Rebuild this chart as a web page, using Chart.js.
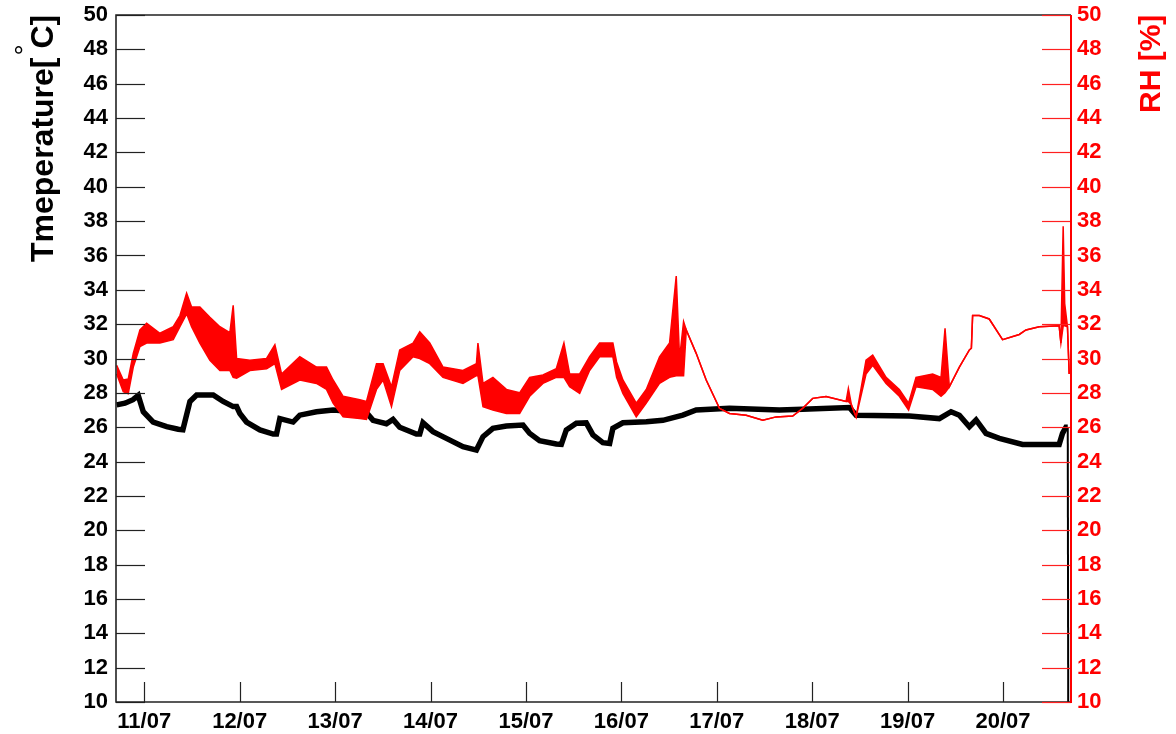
<!DOCTYPE html>
<html lang="en">
<head>
    <meta charset="UTF-8">
    <title>Temperature and RH</title>
    <script src="https://cdn.jsdelivr.net/npm/chart.js"></script>
    <style>
        body {
            margin: 0;
            padding: 0;
            background: #fff;
        }
        #wrap {
            width: 1176px;
            height: 734px;
        }
    </style>
</head>
<body>
    <div id="wrap"><canvas id="myChart"></canvas></div>

    <script>
        // days counted from 11/07 00:00
        const dayLabels = ['11/07', '12/07', '13/07', '14/07', '15/07', '16/07', '17/07', '18/07', '19/07', '20/07'];
        const yTicks = [10, 12, 14, 16, 18, 20, 22, 24, 26, 28, 30, 32, 34, 36, 38, 40, 42, 44, 46, 48, 50];

        const tempDay = [-0.289, -0.202, -0.118, -0.063, -0.010, 0.094, 0.235, 0.356, 0.405, 0.479, 0.549, 0.723, 0.827, 0.932, 0.968,
            1.002, 1.072, 1.212, 1.351, 1.386, 1.421, 1.560, 1.630, 1.805, 1.979, 2.329, 2.398, 2.538, 2.607, 2.677, 2.852, 2.887, 2.921,
            3.026, 3.166, 3.340, 3.481, 3.550, 3.654, 3.795, 3.969, 4.039, 4.143, 4.318, 4.371, 4.423, 4.528, 4.632, 4.702, 4.806, 4.877,
            4.911, 5.016, 5.261, 5.435, 5.644, 5.784, 6.133, 6.656, 6.897, 7.390, 7.460, 8.018, 8.332, 8.455, 8.542, 8.647, 8.717, 8.821,
            8.961, 9.204, 9.588, 9.623, 9.659, 9.678, 9.683];
        const tempVal = [27.3, 27.4, 27.6, 27.85, 26.9, 26.3, 26.03, 25.88, 25.85, 27.5, 27.88, 27.88, 27.5, 27.2, 27.2,
            26.8, 26.3, 25.84, 25.6, 25.6, 26.5, 26.3, 26.7, 26.9, 27.0, 26.85, 26.4, 26.2, 26.45, 26.0, 25.6, 25.6, 26.26,
            25.74, 25.35, 24.87, 24.67, 25.45, 25.93, 26.07, 26.13, 25.64, 25.21, 25.02, 25.0, 25.84, 26.23, 26.25, 25.55, 25.1, 25.05,
            25.93, 26.26, 26.32, 26.4, 26.7, 27.0, 27.1, 27.0, 27.04, 27.15, 26.7, 26.65, 26.5, 26.9, 26.7, 26.03, 26.42, 25.64,
            25.35, 25.0, 25.0, 25.64, 26.0, 26.0, 10.0];

        // RH is a noisy band: upper and lower edge of the band
        const rhDay = [-0.289, -0.220, -0.168, -0.115, -0.045, 0.025, 0.164, 0.304, 0.374, 0.444, 0.496, 0.583, 0.688, 0.793, 0.897,
            0.932, 0.968, 1.107, 1.282, 1.369, 1.439, 1.630, 1.805, 1.910, 1.979, 2.084, 2.259, 2.329, 2.434, 2.503, 2.591, 2.677,
            2.817, 2.887, 2.992, 3.131, 3.340, 3.481, 3.497, 3.550, 3.654, 3.795, 3.934, 4.039, 4.178, 4.318, 4.398, 4.458, 4.563,
            4.667, 4.772, 4.911, 4.950, 5.016, 5.156, 5.261, 5.400, 5.505, 5.575, 5.610, 5.652, 5.680, 5.784, 5.889, 6.028, 6.133,
            6.308, 6.482, 6.622, 6.796, 6.901, 7.005, 7.145, 7.355, 7.379, 7.411, 7.460, 7.564, 7.634, 7.774, 7.913, 8.010, 8.088,
            8.262, 8.350, 8.392, 8.437, 8.542, 8.647, 8.668, 8.681, 8.751, 8.855, 8.995, 9.170, 9.240, 9.379, 9.588, 9.606, 9.630,
            9.646, 9.675, 9.693];
        const rhHigh = [29.6, 28.75, 28.8, 30.3, 31.66, 32.05, 31.47, 31.85, 32.5, 33.8, 33.0, 33.0, 32.4, 31.85, 31.5,
            33.1, 30.0, 29.9, 30.0, 30.8, 29.1, 30.1, 29.5, 29.5, 28.75, 27.8, 27.6, 27.5, 29.7, 29.7, 28.35, 30.5,
            30.9, 31.56, 30.9, 29.5, 29.3, 29.7, 30.9, 28.55, 28.9, 28.2, 28.0, 28.9, 29.04, 29.4, 30.9, 29.1, 29.1,
            30.1, 30.9, 30.9, 29.8, 28.75, 27.4, 28.2, 30.1, 30.9, 34.8, 30.0, 32.15, 31.66, 30.3, 28.75, 27.1, 26.8,
            26.7, 26.4, 26.6, 26.65, 27.1, 27.68, 27.78, 27.5, 28.26, 27.3, 26.6, 29.9, 30.2, 28.9, 28.2, 27.4, 28.9,
            29.1, 28.9, 31.76, 28.35, 29.5, 30.5, 30.6, 32.5, 32.5, 32.3, 31.1, 31.4, 31.66, 31.85, 31.9, 30.9, 37.7,
            33.2, 31.85, 29.1];
        const rhLow = [29.1, 28.07, 27.95, 29.5, 30.7, 30.9, 30.9, 31.1, 31.85, 32.6, 31.85, 30.9, 29.9, 29.3, 29.3,
            28.9, 28.85, 29.3, 29.4, 29.7, 28.2, 28.75, 28.55, 28.2, 27.4, 26.6, 26.5, 26.45, 28.2, 28.75, 27.2, 29.3,
            30.1, 30.0, 29.7, 28.9, 28.55, 29.0, 29.0, 27.2, 27.0, 26.8, 26.8, 27.8, 28.55, 28.9, 28.9, 28.35, 27.97,
            29.3, 30.1, 30.1, 28.9, 27.97, 26.6, 27.4, 28.55, 28.9, 29.0, 29.0, 29.0, 31.66, 30.3, 28.75, 27.1, 26.8,
            26.7, 26.4, 26.6, 26.65, 27.1, 27.68, 27.78, 27.5, 27.5, 27.3, 26.6, 29.1, 29.6, 28.55, 27.8, 27.0, 28.35,
            28.2, 27.8, 28.0, 28.35, 29.5, 30.5, 30.6, 32.5, 32.5, 32.3, 31.1, 31.4, 31.66, 31.85, 31.9, 30.9, 31.9,
            31.9, 31.85, 29.1];

        const xMin = -0.296;
        const xMax = 9.712;
        const labelFont = { family: 'Liberation Sans, Arial, sans-serif', size: 22, weight: 'bold' };

        const tempPoints = tempDay.map((d, i) => ({ x: d, y: tempVal[i] }));
        const rhHighPoints = rhDay.map((d, i) => ({ x: d, y: rhHigh[i] }));
        const rhLowPoints = rhDay.map((d, i) => ({ x: d, y: rhLow[i] }));

        // no extra room for the end labels, the frame is placed by hand
        function noPad(s) {
            s.paddingTop = 0;
            s.paddingBottom = 0;
            s.paddingLeft = 0;
            s.paddingRight = 0;
        }

        // frame, inside ticks and axis titles, drawn like a ROOT canvas
        const frameAndTitles = {
            id: 'frameAndTitles',
            afterDraw(chart) {
                const c = chart.ctx;
                const a = chart.chartArea;
                const xs = chart.scales.x;
                const yl = chart.scales.y;
                const yr = chart.scales.y2;
                c.save();

                // left ticks
                c.strokeStyle = '#222';
                c.lineWidth = 1.2;
                yTicks.forEach(v => {
                    const py = Math.round(yl.getPixelForValue(v)) + 0.5;
                    c.beginPath();
                    c.moveTo(a.left, py);
                    c.lineTo(a.left + 29, py);
                    c.stroke();
                });
                // bottom ticks
                dayLabels.forEach((l, i) => {
                    const px = Math.round(xs.getPixelForValue(i)) + 0.5;
                    c.beginPath();
                    c.moveTo(px, a.bottom);
                    c.lineTo(px, a.bottom - 20);
                    c.stroke();
                });
                // frame
                c.lineWidth = 1.6;
                c.beginPath();
                c.moveTo(a.right, a.top);
                c.lineTo(a.left, a.top);
                c.lineTo(a.left, a.bottom);
                c.lineTo(a.right, a.bottom);
                c.stroke();

                // right red axis
                c.strokeStyle = '#ff2020';
                c.lineWidth = 1.2;
                yTicks.forEach(v => {
                    const py = Math.round(yr.getPixelForValue(v)) + 0.5;
                    c.beginPath();
                    c.moveTo(a.right - 29, py);
                    c.lineTo(a.right, py);
                    c.stroke();
                });
                c.strokeStyle = '#ff0000';
                c.lineWidth = 2;
                c.beginPath();
                c.moveTo(a.right, a.top);
                c.lineTo(a.right, a.bottom + 1);
                c.stroke();

                // left title
                c.fillStyle = '#000';
                c.font = 'bold 32px "Liberation Sans", Arial, sans-serif';
                c.textAlign = 'left';
                c.textBaseline = 'alphabetic';
                c.translate(53, 262);
                c.rotate(-Math.PI / 2);
                c.fillText('Tmeperature[ C]', 0, 0);
                c.setTransform(1, 0, 0, 1, 0, 0);
                c.font = '28px "Liberation Sans", Arial, sans-serif';
                c.textAlign = 'center';
                c.translate(34, 50);
                c.rotate(-Math.PI / 2);
                c.fillText('°', 0, 0);
                c.setTransform(1, 0, 0, 1, 0, 0);

                // right title
                c.fillStyle = '#ff0000';
                c.font = 'bold 30px "Liberation Sans", Arial, sans-serif';
                c.textAlign = 'left';
                c.translate(1160, 113);
                c.rotate(-Math.PI / 2);
                c.fillText('RH [%]', 0, 0);
                c.restore();
            }
        };

        const ctx = document.getElementById('myChart').getContext('2d');
        const myChart = new Chart(ctx, {
            type: 'line',
            data: {
                datasets: [
                    {
                        label: 'RH high',
                        data: rhHighPoints,
                        yAxisID: 'y2',
                        borderColor: '#ff0000',
                        borderWidth: 1.5,
                        backgroundColor: '#ff0000',
                        fill: '+1',
                        pointRadius: 0,
                        tension: 0,
                        order: 0
                    },
                    {
                        label: 'RH low',
                        data: rhLowPoints,
                        yAxisID: 'y2',
                        borderColor: '#ff0000',
                        borderWidth: 1.5,
                        fill: false,
                        pointRadius: 0,
                        tension: 0,
                        order: 0
                    },
                    {
                        label: 'Temperature',
                        data: tempPoints,
                        yAxisID: 'y',
                        borderColor: '#000',
                        borderWidth: 5.5,
                        pointRadius: 0,
                        tension: 0,
                        fill: false,
                        order: 1,
                        segment: {
                            borderWidth: s => s.p1DataIndex === tempPoints.length - 1 ? 2 : 5.5
                        }
                    }
                ]
            },
            options: {
                responsive: true,
                maintainAspectRatio: false,
                animation: false,
                layout: { padding: { top: 15, left: 0, right: 0, bottom: 0 } },
                plugins: {
                    legend: { display: false },
                    tooltip: { enabled: false }
                },
                scales: {
                    x: {
                        type: 'linear',
                        min: xMin,
                        max: xMax,
                        grid: { display: false, drawTicks: false },
                        border: { display: false },
                        afterBuildTicks: s => { s.ticks = dayLabels.map((l, i) => ({ value: i })); },
                        afterFit: s => { s.height = 32; noPad(s); },
                        ticks: {
                            autoSkip: false,
                            maxRotation: 0,
                            padding: 7,
                            color: '#000',
                            font: labelFont,
                            callback: v => dayLabels[v]
                        }
                    },
                    y: {
                        position: 'left',
                        min: 10,
                        max: 50,
                        grid: { display: false, drawTicks: false },
                        border: { display: false },
                        afterBuildTicks: s => { s.ticks = yTicks.map(v => ({ value: v })); },
                        afterFit: s => { s.width = 116; noPad(s); },
                        ticks: { padding: 8, color: '#000', font: labelFont }
                    },
                    y2: {
                        position: 'right',
                        min: 10,
                        max: 50,
                        grid: { display: false, drawTicks: false },
                        border: { display: false },
                        afterBuildTicks: s => { s.ticks = yTicks.map(v => ({ value: v })); },
                        afterFit: s => { s.width = 105; noPad(s); },
                        ticks: { padding: 6, color: '#ff0000', font: labelFont }
                    }
                }
            },
            plugins: [frameAndTitles]
        });
    </script>
</body>
</html>
